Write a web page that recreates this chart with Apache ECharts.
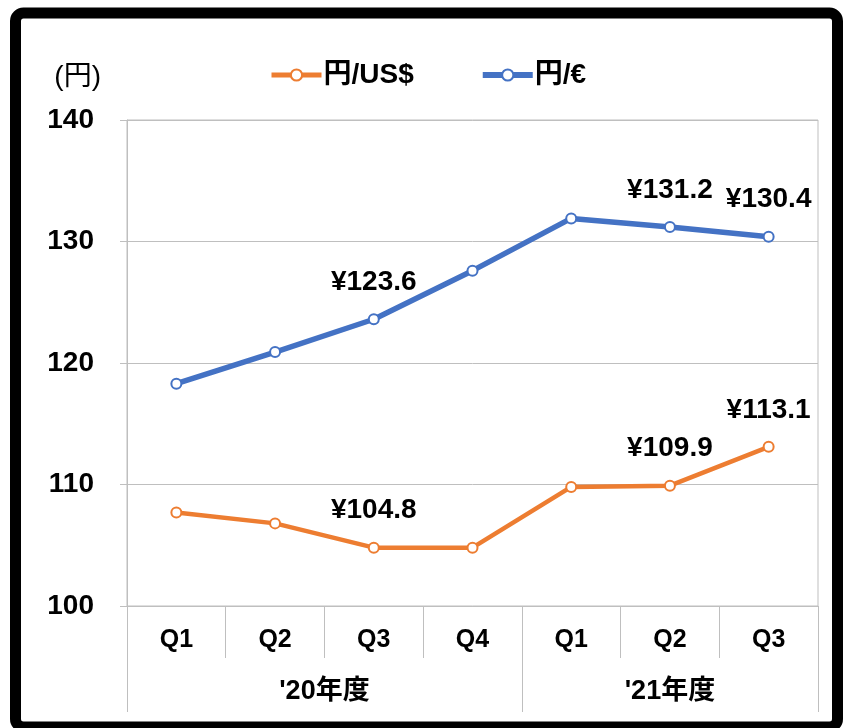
<!DOCTYPE html>
<html>
<head>
<meta charset="utf-8">
<script src="https://cdn.jsdelivr.net/npm/echarts@6/dist/echarts.min.js"></script>
<style>
  html, body { margin: 0; padding: 0; background: #fff; }
  #chart { width: 843px; height: 728px; }
</style>
</head>
<body>
<div id="chart"></div>
<script>
// Yen exchange rates per quarter, FY'20 Q1 .. FY'21 Q3
const quarters = ['Q1', 'Q2', 'Q3', 'Q4', 'Q1', 'Q2', 'Q3']
const usdValues = [107.7, 106.8, 104.8, 104.8, 109.8, 109.9, 113.1]
const eurValues = [118.3, 120.9, 123.6, 127.6, 131.9, 131.2, 130.4]
const labelIndexes = [2, 5, 6]
const yearLabels = ["'20年度", "'21年度"]
const yearCenters = [2, 5.5]
const yearBounds = [0, 4, 7]

const FONT = "'Liberation Sans', 'Noto Sans CJK JP', sans-serif"
const GRAY = '#bfbfbf'
const ORANGE = '#ED7D31'
const BLUE = '#4472C4'

function withLabels(values) {
  return values.map(function (v, i) {
    return {
      value: v,
      label: { show: labelIndexes.indexOf(i) >= 0 }
    }
  })
}

const labelStyle = {
  position: 'top',
  distance: 17,
  color: '#000',
  fontSize: 28,
  fontWeight: 'bold',
  fontFamily: FONT,
  formatter: function (p) { return '¥' + p.value.toFixed(1) }
}

const chart = echarts.init(document.getElementById('chart'))
chart.setOption({
  animation: false,
  textStyle: { fontFamily: FONT },
  graphic: [{
    type: 'rect',
    shape: { x: 15.5, y: 13, width: 822, height: 714, r: 8 },
    style: { fill: 'none', stroke: '#000', lineWidth: 11 },
    silent: true,
    z: 100
  }],
  legend: {
    top: 56,
    left: 264,
    itemGap: 66,
    itemWidth: 50,
    itemHeight: 14,
    textStyle: { fontSize: 28, fontWeight: 'bold', color: '#000', fontFamily: FONT, padding: [0, 0, 0, -3] },
    data: [
      { name: '円/US$', lineStyle: { width: 5, color: ORANGE } },
      { name: '円/€', lineStyle: { width: 6, color: BLUE } }
    ]
  },
  grid: {
    left: 127, right: 25, top: 120, bottom: 122,
    show: true, borderColor: GRAY, borderWidth: 1
  },
  xAxis: [{
    type: 'category',
    data: quarters,
    position: 'bottom',
    axisLine: { show: true, lineStyle: { color: GRAY, width: 1 } },
    axisTick: { show: true, interval: 0, length: 52, lineStyle: { color: GRAY, width: 1 } },
    axisLabel: {
      interval: 0, margin: 22, color: '#000',
      fontSize: 25, fontWeight: 'bold', fontFamily: FONT
    }
  }, {
    type: 'value',
    min: 0,
    max: 7,
    position: 'bottom',
    offset: 0,
    axisLine: { show: false },
    splitLine: { show: false },
    axisTick: { show: true, customValues: yearBounds, length: 106, lineStyle: { color: GRAY } },
    axisLabel: {
      customValues: yearCenters,
      margin: 72,
      color: '#000',
      fontSize: 27,
      fontWeight: 'bold',
      fontFamily: FONT,
      formatter: function (v) { return yearLabels[yearCenters.indexOf(v)] }
    }
  }],
  yAxis: {
    type: 'value',
    min: 100,
    max: 140,
    interval: 10,
    name: '(円)',
    nameLocation: 'end',
    nameGap: 29,
    nameTextStyle: {
      align: 'right', padding: [0, 26, 0, 0],
      fontSize: 28, color: '#000', fontFamily: FONT
    },
    axisLine: { show: true, lineStyle: { color: GRAY } },
    axisTick: { show: true, length: 7, lineStyle: { color: GRAY } },
    splitLine: { lineStyle: { color: GRAY, width: 1 } },
    axisLabel: {
      margin: 33, color: '#000',
      fontSize: 28, fontWeight: 'bold', fontFamily: FONT
    }
  },
  series: [{
    name: '円/US$',
    type: 'line',
    data: withLabels(usdValues),
    symbol: 'circle',
    symbolSize: 10,
    lineStyle: { color: ORANGE, width: 4.5 },
    itemStyle: { color: '#fff', borderColor: ORANGE, borderWidth: 2 },
    label: labelStyle
  }, {
    name: '円/€',
    type: 'line',
    data: withLabels(eurValues),
    symbol: 'circle',
    symbolSize: 10,
    lineStyle: { color: BLUE, width: 5.5 },
    itemStyle: { color: '#fff', borderColor: BLUE, borderWidth: 2 },
    label: labelStyle
  }]
})
</script>
</body>
</html>
